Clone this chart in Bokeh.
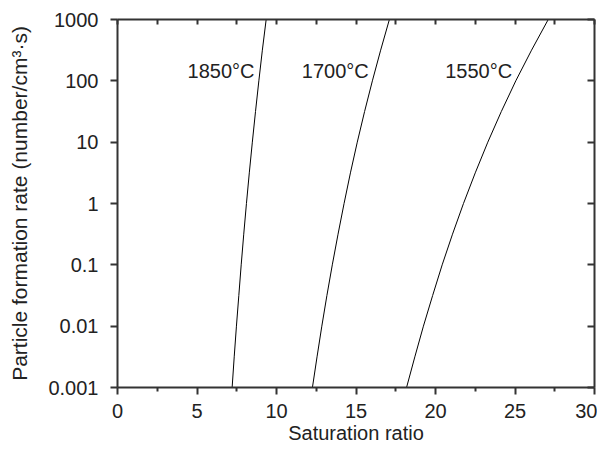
from bokeh.plotting import figure
from bokeh.models import Range1d, LinearAxis, LogAxis, FixedTicker, CustomJSTickFormatter
from bokeh.core.properties import value
from bokeh.embed import file_html
from bokeh.resources import INLINE

# Particle formation rate values (number/cm^3.s) sampled along each curve
rate = [0.001, 0.00316, 0.01, 0.0316, 0.1, 0.316, 1, 3.16, 10, 31.6, 100, 316, 1000]
# Saturation ratio for each temperature at those rates
s_1850 = [7.21, 7.34, 7.48, 7.63, 7.78, 7.94, 8.11, 8.29, 8.48, 8.68, 8.89, 9.11, 9.35]
s_1700 = [12.26, 12.55, 12.85, 13.17, 13.51, 13.87, 14.25, 14.65, 15.08, 15.54, 16.03, 16.55, 17.10]
s_1550 = [18.18, 18.70, 19.24, 19.82, 20.42, 21.07, 21.76, 22.50, 23.29, 24.14, 25.05, 26.04, 27.09]

series_labels = ["1850°C", "1700°C", "1550°C"]
x_ticks = [0, 5, 10, 15, 20, 25, 30]
x_minor = [2.5, 7.5, 12.5, 17.5, 22.5, 27.5]
y_ticks = [0.001, 0.01, 0.1, 1, 10, 100, 1000]

FONT = "Liberation Sans"
TXT = "#222222"
AX = "#333333"

p = figure(width=597, height=446, output_backend="svg", toolbar_location=None,
           y_axis_type="log", x_range=Range1d(0, 30), y_range=Range1d(0.001, 1000),
           min_border_left=117, min_border_right=3, min_border_top=19, min_border_bottom=59)
p.outline_line_color = None
p.grid.visible = False
p.background_fill_color = "white"
p.border_fill_color = "white"

for s in (s_1850, s_1700, s_1550):
    p.line(s, rate, line_color="black", line_width=1)

# labels (right-aligned next to each curve)
lab_x = [8.62, 15.8, 24.82]
lab_y = [145, 145, 145]
p.text(x=lab_x, y=lab_y, text=series_labels, text_align="right", text_baseline="middle",
       text_font_size="20px", text_font=value(FONT), text_color=TXT)

xa = p.xaxis[0]
xa.ticker = FixedTicker(ticks=x_ticks, minor_ticks=x_minor)
xa.axis_label = "Saturation ratio"
ya = p.yaxis[0]
ya.ticker = FixedTicker(ticks=y_ticks, minor_ticks=[])
ya.formatter = CustomJSTickFormatter(code="return Number(tick.toPrecision(6)).toString();")
ya.axis_label = "Particle formation rate (number/cm³·s)"

for ax in (xa, ya):
    ax.axis_line_color = AX
    ax.axis_line_width = 2
    ax.major_tick_line_color = AX
    ax.major_tick_line_width = 2
    ax.major_tick_in = 0
    ax.major_tick_out = 7
    ax.minor_tick_line_color = AX
    ax.minor_tick_line_width = 2
    ax.minor_tick_in = 0
    ax.minor_tick_out = 4
    ax.major_label_text_font = FONT
    ax.major_label_text_font_size = "20px"
    ax.major_label_text_color = TXT
    ax.axis_label_text_font = FONT
    ax.axis_label_text_font_size = "20px"
    ax.axis_label_text_font_style = "normal"
    ax.axis_label_text_color = TXT

xa.major_label_standoff = 9
xa.axis_label_standoff = 1
ya.major_label_standoff = 12
ya.axis_label_standoff = 14
ya.axis_label_text_font_size = "21px"
ya.minor_tick_line_color = None

blank = CustomJSTickFormatter(code="return '';")
top = LinearAxis(ticker=FixedTicker(ticks=x_ticks, minor_ticks=x_minor), formatter=blank,
                 axis_line_color=AX, axis_line_width=2,
                 major_tick_in=5, major_tick_out=0, minor_tick_in=5, minor_tick_out=0,
                 major_tick_line_color=AX, minor_tick_line_color=AX,
                 major_tick_line_width=2, minor_tick_line_width=2, major_label_standoff=0)
p.add_layout(top, "above")

right = LogAxis(ticker=FixedTicker(ticks=y_ticks, minor_ticks=[]), formatter=CustomJSTickFormatter(code="return '';"),
                axis_line_color=AX, axis_line_width=2,
                major_tick_in=7, major_tick_out=0, minor_tick_line_color=None,
                major_tick_line_color=AX, major_tick_line_width=2, major_label_standoff=0)
p.add_layout(right, "right")

open("out.html", "w").write(file_html(p, INLINE))
